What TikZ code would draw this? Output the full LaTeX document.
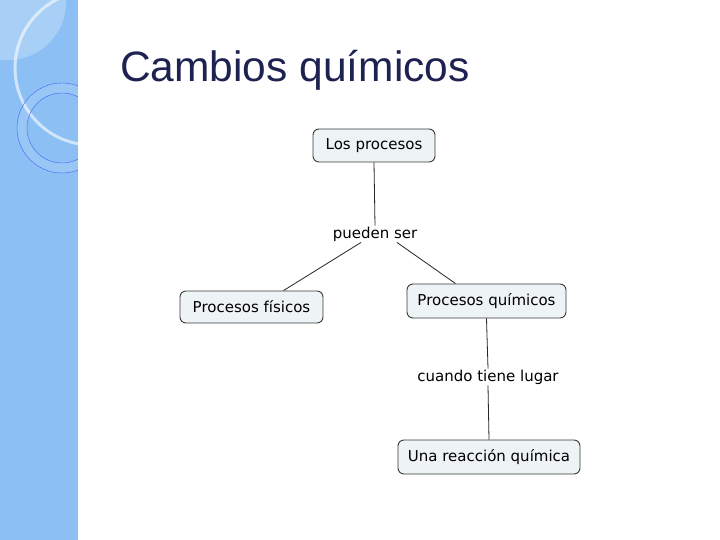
\documentclass[tikz,border=0pt]{standalone}
\usepackage{fontspec}
\setmainfont{Liberation Sans}
\newfontfamily\mapfont{DejaVu Sans}
\definecolor{strip}{HTML}{8CC0F4}
\definecolor{titlec}{HTML}{1E2250}
\definecolor{boxfill}{HTML}{EEF3F6}
\definecolor{boxline}{HTML}{3A3A3A}
\begin{document}
\begin{tikzpicture}[x=1pt,y=-1pt,
  concept/.style={draw=boxline, line width=0.9pt, fill=boxfill, rounded corners=6pt,
    font=\mapfont\fontsize{15}{17}\selectfont, inner xsep=0pt, inner ysep=0pt, anchor=center},
  linkword/.style={font=\mapfont\fontsize{15}{17}\selectfont, inner sep=1pt},
  conn/.style={draw=black!85, line width=0.8pt}]
\useasboundingbox (0,0) rectangle (720,540);
\fill[white] (0,0) rectangle (720,540);
% left strip
\begin{scope}
\clip (0,0) rectangle (78,540);
\fill[strip] (0,0) rectangle (78,540);
\fill[white, opacity=0.25] (8,2) circle (58);
\draw[white, opacity=0.6, line width=3pt] (92,68) circle (77);
\fill[white, opacity=0.12, even odd rule] (62,128) circle (45) (62,128) circle (35);
\draw[blue!50!strip, line width=0.4pt] (62,128) circle (45) (62,128) circle (35);
\end{scope}
% title
\node[anchor=base west, text=titlec, font=\fontsize{42.5}{46}\selectfont, inner sep=0pt] (title) at (120,82) {Cambios químicos};
% concept map
\node[concept, minimum width=122pt, minimum height=33pt] (lp) at (374,145.5) {Los procesos};
\node[linkword] (ps) at (375,234) {pueden ser};
\node[concept, minimum width=143pt, minimum height=32pt] (pf) at (251.5,307) {Procesos físicos};
\node[concept, minimum width=159pt, minimum height=34pt] (pq) at (486.5,301) {Procesos químicos};
\node[linkword] (ct) at (488,377) {cuando tiene lugar};
\node[concept, minimum width=182pt, minimum height=34pt] (rq) at (489,457) {Una reacción química};
\draw[conn] (lp.south) -- (ps.north);
\draw[conn] ([xshift=-14pt]ps.south) -- ([xshift=32pt]pf.north);
\draw[conn] ([xshift=22pt]ps.south) -- ([xshift=-31pt]pq.north);
\draw[conn] (pq.south) -- (ct.north);
\draw[conn] (ct.south) -- (rq.north);
\end{tikzpicture}
\end{document}
